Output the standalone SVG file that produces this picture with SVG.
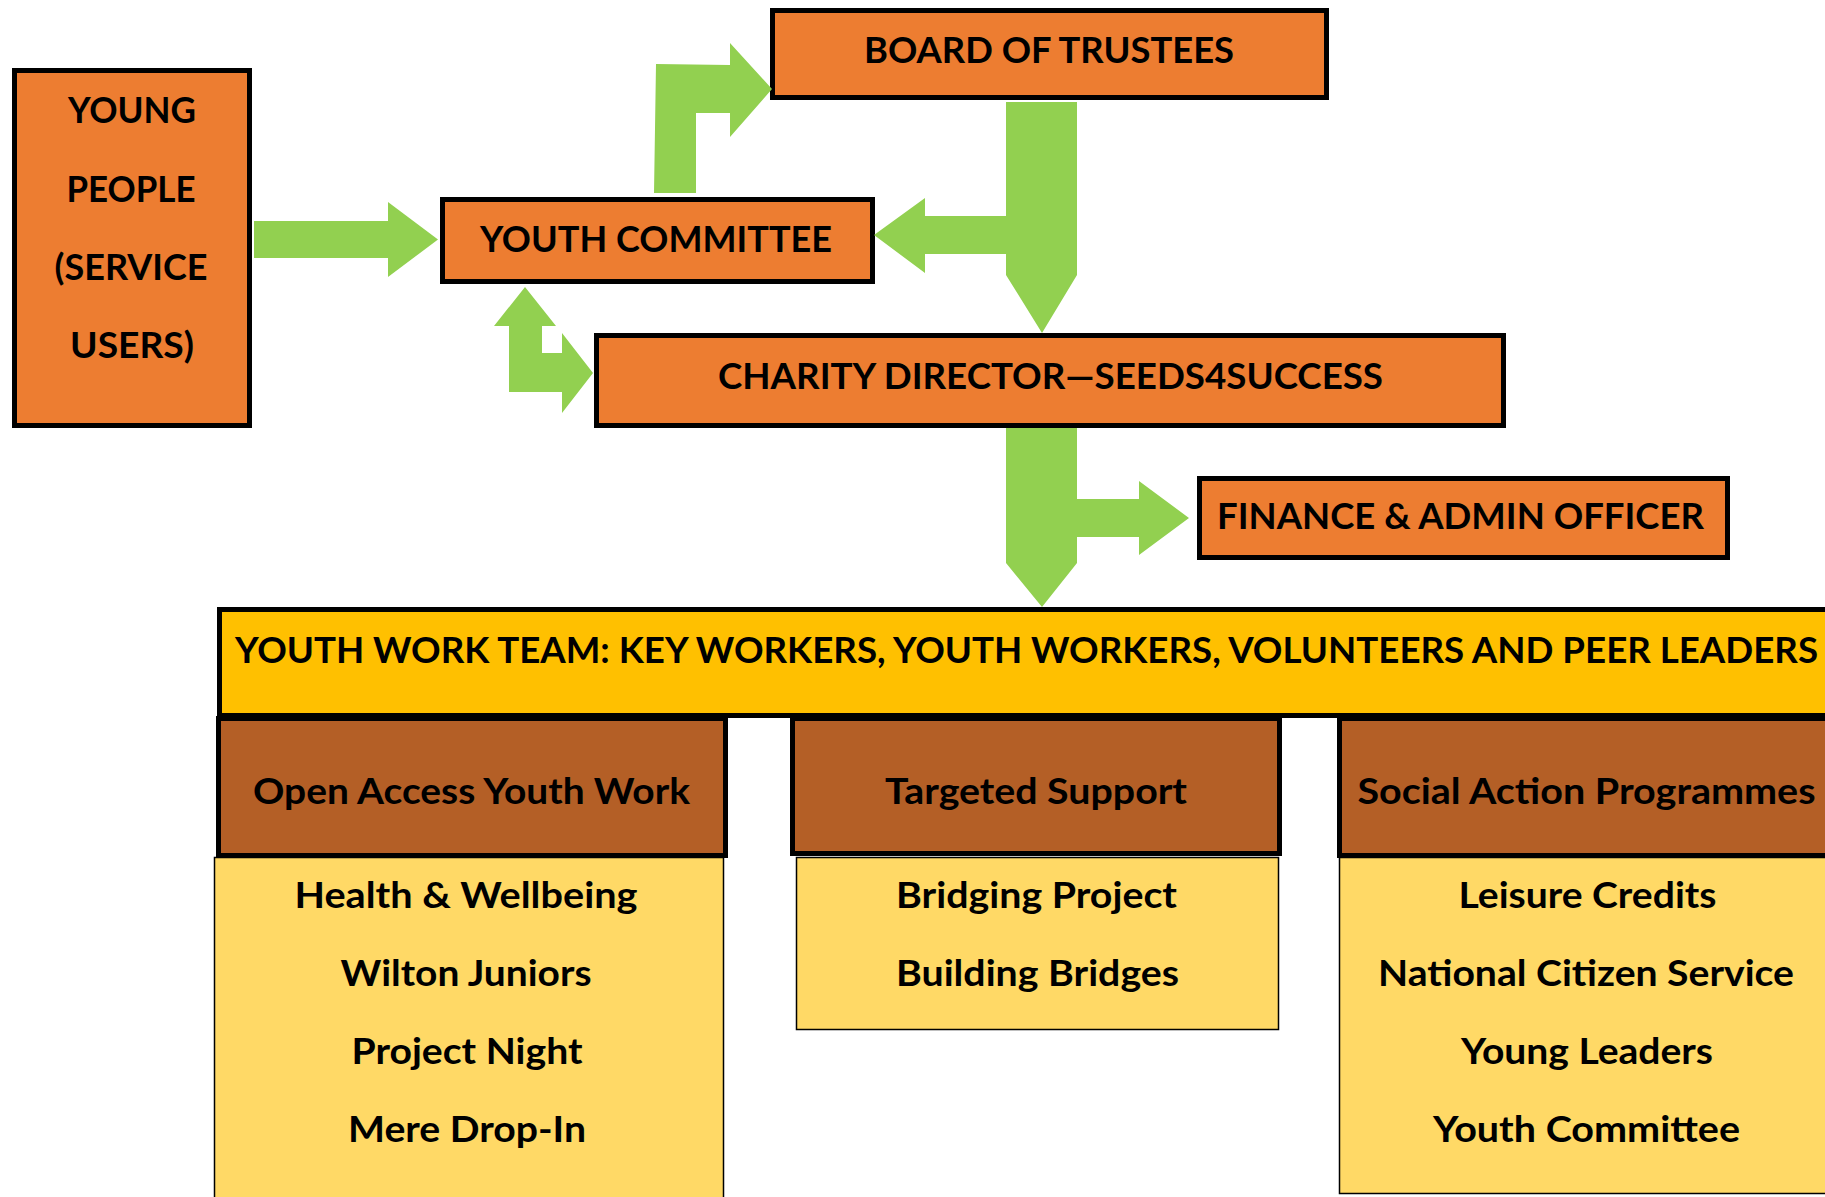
<svg xmlns="http://www.w3.org/2000/svg" width="1825" height="1197" viewBox="0 0 1825 1197">
<style>
.box{fill:#ED7D31;stroke:#000;stroke-width:5}
.band{fill:#FFC000;stroke:#000;stroke-width:5}
.hdr{fill:#B45F26;stroke:#000;stroke-width:5}
.cnt{fill:#FFD966;stroke:#000;stroke-width:1.5}
.arr{fill:#92D050}
text{font-family:Lato,"Liberation Sans",sans-serif;font-weight:bold;font-size:35.5px;fill:#000}
.c{text-anchor:middle}
</style>
<rect width="1825" height="1197" fill="#fff"/>
<g id="young-people">
<rect class="box" x="14.5" y="70.5" width="235" height="355"/>
<text class="c" x="132" y="123" textLength="128" lengthAdjust="spacingAndGlyphs">YOUNG</text>
<text class="c" x="131" y="202" textLength="129" lengthAdjust="spacingAndGlyphs">PEOPLE</text>
<text class="c" x="131" y="280" textLength="153" lengthAdjust="spacingAndGlyphs">(SERVICE</text>
<text class="c" x="132" y="358" textLength="124" lengthAdjust="spacingAndGlyphs">USERS)</text>
</g>
<g id="board-of-trustees">
<rect class="box" x="772.5" y="10.5" width="554" height="87"/>
<text class="c" x="1049" y="63" textLength="370" lengthAdjust="spacingAndGlyphs">BOARD OF TRUSTEES</text>
</g>
<g id="youth-committee">
<rect class="box" x="442.5" y="199.5" width="430" height="82"/>
<text class="c" x="656" y="252" textLength="352" lengthAdjust="spacingAndGlyphs">YOUTH COMMITTEE</text>
</g>
<g id="charity-director">
<rect class="box" x="596.5" y="335.5" width="907" height="90"/>
<text class="c" x="1050.5" y="389" textLength="665" lengthAdjust="spacingAndGlyphs">CHARITY DIRECTOR—SEEDS4SUCCESS</text>
</g>
<g id="finance-admin">
<rect class="box" x="1199.5" y="478.5" width="528" height="79"/>
<text class="c" x="1460.5" y="529" textLength="487" lengthAdjust="spacingAndGlyphs">FINANCE &amp; ADMIN OFFICER</text>
</g>
<g id="youth-work-team">
<rect class="band" x="219.5" y="609.5" width="1700" height="106"/>
<text x="235" y="663" textLength="1583" lengthAdjust="spacingAndGlyphs">YOUTH WORK TEAM: KEY WORKERS, YOUTH WORKERS, VOLUNTEERS AND PEER LEADERS</text>
</g>
<g id="open-access">
<rect class="hdr" x="218.5" y="718.5" width="507" height="137"/>
<text class="c" x="471.5" y="804" textLength="437" lengthAdjust="spacingAndGlyphs">Open Access Youth Work</text>
<rect class="cnt" x="214.5" y="857.5" width="509" height="400"/>
<text class="c" x="466" y="908" textLength="343" lengthAdjust="spacingAndGlyphs">Health &amp; Wellbeing</text>
<text class="c" x="466" y="986" textLength="251" lengthAdjust="spacingAndGlyphs">Wilton Juniors</text>
<text class="c" x="467" y="1064" textLength="231" lengthAdjust="spacingAndGlyphs">Project Night</text>
<text class="c" x="467" y="1142" textLength="238" lengthAdjust="spacingAndGlyphs">Mere Drop-In</text>
</g>
<g id="targeted-support">
<rect class="hdr" x="792.5" y="718.5" width="487" height="135"/>
<text class="c" x="1036" y="804" textLength="302" lengthAdjust="spacingAndGlyphs">Targeted Support</text>
<rect class="cnt" x="796.5" y="857.5" width="482" height="172"/>
<text class="c" x="1036.5" y="908" textLength="281" lengthAdjust="spacingAndGlyphs">Bridging Project</text>
<text class="c" x="1037.5" y="986" textLength="283" lengthAdjust="spacingAndGlyphs">Building Bridges</text>
</g>
<g id="social-action">
<rect class="hdr" x="1339.5" y="718.5" width="600" height="137"/>
<text class="c" x="1586.5" y="804" textLength="458" lengthAdjust="spacingAndGlyphs">Social Action Programmes</text>
<rect class="cnt" x="1339.5" y="857.5" width="600" height="336"/>
<text class="c" x="1587.5" y="908" textLength="258" lengthAdjust="spacingAndGlyphs">Leisure Credits</text>
<text class="c" x="1586" y="986" textLength="416" lengthAdjust="spacingAndGlyphs">National Citizen Service</text>
<text class="c" x="1587" y="1064" textLength="252" lengthAdjust="spacingAndGlyphs">Young Leaders</text>
<text class="c" x="1586.5" y="1142" textLength="307" lengthAdjust="spacingAndGlyphs">Youth Committee</text>
</g>
<g id="connectors">
<polygon class="arr" points="254,221 388,221 388,202 438,239.5 388,277 388,258 254,258"/>
<polygon class="arr" points="654,193 656,64 730,65 730,43 772,89 730,137 730,113 696,113 696,193"/>
<polygon class="arr" points="1006,102 1077,102 1077,275 1042,333 1006,275 1006,254 925,254 925,273 874,235 925,198 925,216 1006,216"/>
<polygon class="arr" points="1006,428 1077,428 1077,499 1139,499 1139,481 1189,518 1139,555 1139,537 1077,537 1077,563 1042,607 1006,563"/>
<polygon class="arr" points="525,287 556,326 542,326 542,353 562,353 562,333 593,373 562,413 562,392 509,392 509,326 494,326"/>
</g>
</svg>
